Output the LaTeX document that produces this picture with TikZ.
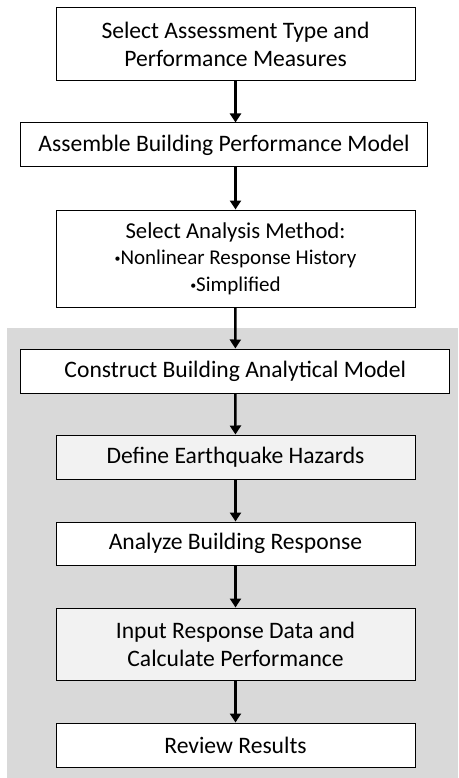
\documentclass[tikz,border=0pt]{standalone}
\usepackage{fontspec}
\setmainfont{Carlito}
\usetikzlibrary{arrows.meta}

\newcommand{\dotitem}{\raisebox{2pt}{\fontsize{12}{12}\selectfont •}}

\tikzset{
  stepbox/.style={draw, line width=1pt, fill=white, align=center,
    minimum width=359pt, minimum height=44pt, inner sep=0pt,
    font=\fontsize{23.6}{28}\selectfont},
  greybox/.style={stepbox, fill=black!5},
  flow/.style={line width=2.4pt, -{Triangle[length=9pt,width=11pt]}}
}

\begin{document}
\begin{tikzpicture}[x=1pt,y=-1pt]

\useasboundingbox (0,0) rectangle (458,778);

\fill [black!15] (7,328) rectangle (458,778);

\node [stepbox, minimum height=73pt] (assess) at (235.5,44.5)
  {Select Assessment Type and\\Performance Measures};
\node [stepbox, minimum width=407pt] (assemble) at (224,145)
  {Assemble Building Performance Model};
\node [stepbox, minimum height=97pt, font=\fontsize{22.7}{26.5}\selectfont]
  (method) at (235.5,258.5)
  {Select Analysis Method:\\
   {\fontsize{21}{26.5}\selectfont \dotitem Nonlinear Response History}\\
   {\fontsize{21}{26.5}\selectfont \dotitem Simplified}};
\node [stepbox, minimum width=429pt] (model) at (235.3,371)
  {Construct Building Analytical Model};
\node [greybox] (hazard) at (235.5,457) {Define Earthquake Hazards};
\node [stepbox, minimum height=43pt] (response) at (235.5,543.5)
  {Analyze Building Response};
\node [greybox, minimum height=72pt] (perform) at (235.5,644)
  {Input Response Data and\\Calculate Performance};
\node [stepbox] (review) at (235.5,745) {Review Results};

\draw [flow] (assess) -- (assemble.north -| assess.south);
\draw [flow] (assemble.south -| method.north) -- (method);
\draw [flow] (method) -- (model);
\draw [flow] (model) -- (hazard);
\draw [flow] (hazard) -- (response);
\draw [flow] (response) -- (perform);
\draw [flow] (perform) -- (review);

\end{tikzpicture}
\end{document}
